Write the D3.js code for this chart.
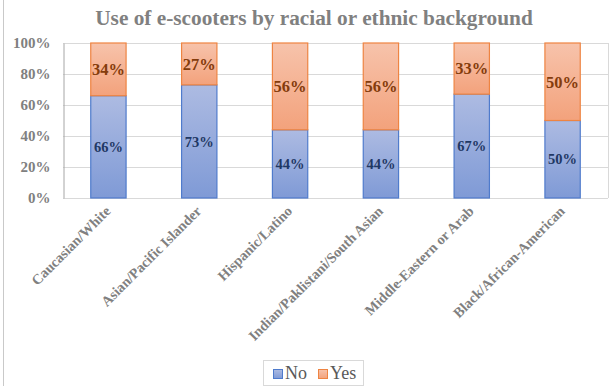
<!DOCTYPE html>
<html><head><meta charset="utf-8">
<script src="https://cdn.jsdelivr.net/npm/d3@7/dist/d3.min.js"></script>
<style>body{margin:0;background:#fff}svg{display:block}</style>
</head><body>
<svg id="c" width="613" height="387"></svg>
<script>
const categories = ["Caucasian/White","Asian/Pacific Islander","Hispanic/Latino","Indian/Paklistani/South Asian","Middle-Eastern or Arab","Black/African-American"];
const noValues = [66, 73, 44, 44, 67, 50];
const yesValues = [34, 27, 56, 56, 33, 50];
const yTicks = [0, 20, 40, 60, 80, 100];
const seriesNames = ["No", "Yes"];

const svg = d3.select("#c");
const serif = "'Liberation Serif','Times New Roman',serif";
const m = {l:63, r:608, t:43, b:198};

const defs = svg.append("defs");
const gb = defs.append("linearGradient").attr("id","gBlue").attr("x1",0).attr("y1",0).attr("x2",0).attr("y2",1);
gb.append("stop").attr("offset","0%").attr("stop-color","#adbbe2");
gb.append("stop").attr("offset","100%").attr("stop-color","#7f9ad6");
const go = defs.append("linearGradient").attr("id","gOrange").attr("x1",0).attr("y1",0).attr("x2",0).attr("y2",1);
go.append("stop").attr("offset","0%").attr("stop-color","#f7c3ab");
go.append("stop").attr("offset","100%").attr("stop-color","#f3a27c");

// chart left border
svg.append("line").attr("x1",3.5).attr("x2",3.5).attr("y1",0).attr("y2",386).attr("stroke","#c9c9c9").attr("stroke-width",1);

const x = d3.scaleBand().domain(categories).range([m.l, m.r]).paddingInner(0.6).paddingOuter(0.3);
const y = d3.scaleLinear().domain([0,100]).range([m.b, m.t]);

// gridlines
svg.append("g").selectAll("line").data(yTicks.filter(d=>d>0)).join("line")
  .attr("x1", m.l).attr("x2", m.r).attr("y1", d=>y(d)+0.5).attr("y2", d=>y(d)+0.5)
  .attr("stroke","#d9d9d9");
svg.append("line").attr("x1",m.r+0.5).attr("x2",m.r+0.5).attr("y1",m.t).attr("y2",m.b).attr("stroke","#d9d9d9");
svg.append("line").attr("x1",m.l).attr("x2",m.r).attr("y1",m.b+0.5).attr("y2",m.b+0.5).attr("stroke","#d9d9d9");

// y axis
const yAxis = d3.axisLeft(y).tickValues(yTicks).tickFormat(d=>d+"%").tickSize(0).tickPadding(13);
const ya = svg.append("g").attr("transform",`translate(${m.l+0.5},0)`).call(yAxis);
ya.select(".domain").attr("stroke","#a6a6a6");
ya.selectAll("text").attr("font-family",serif).attr("font-weight","bold").attr("font-size","15px").attr("fill","#808080");

const data = categories.map((c,i)=>({c, no:noValues[i], yes:yesValues[i]}));

const g = svg.append("g");
g.selectAll(".no").data(data).join("rect").attr("class","no")
  .attr("x", d=>x(d.c)+0.5).attr("width", x.bandwidth()-1)
  .attr("y", d=>y(d.no)).attr("height", d=>y(0)-y(d.no))
  .attr("fill","url(#gBlue)").attr("stroke","#4f7bcc").attr("stroke-width",1.2);
g.selectAll(".yes").data(data).join("rect").attr("class","yes")
  .attr("x", d=>x(d.c)+0.5).attr("width", x.bandwidth()-1)
  .attr("y", d=>y(d.no+d.yes)).attr("height", d=>y(d.no)-y(d.no+d.yes))
  .attr("fill","url(#gOrange)").attr("stroke","#ee8442").attr("stroke-width",1.2);

g.selectAll(".nol").data(data).join("text")
  .attr("x", d=>x(d.c)+x.bandwidth()/2).attr("y", d=>y(d.no/2)).attr("dy","0.35em")
  .attr("text-anchor","middle").attr("font-family",serif).attr("font-weight","bold")
  .attr("font-size","14.5px").attr("fill","#1f3864").text(d=>d.no+"%");
g.selectAll(".yesl").data(data).join("text")
  .attr("x", d=>x(d.c)+x.bandwidth()/2).attr("y", d=>y(d.no+d.yes/2)).attr("dy","0.35em")
  .attr("text-anchor","middle").attr("font-family",serif).attr("font-weight","bold")
  .attr("font-size","16.5px").attr("fill","#843c0c").text(d=>d.yes+"%");

svg.append("g").selectAll("text").data(categories).join("text")
  .attr("transform", d=>`translate(${x(d)+x.bandwidth()/2+3},${m.b+14}) rotate(-45)`)
  .attr("text-anchor","end").attr("font-family",serif).attr("font-weight","bold")
  .attr("font-size","14.3px").attr("fill","#808080").text(d=>d);

svg.append("text").attr("x",314).attr("y",25).attr("text-anchor","middle")
  .attr("font-family",serif).attr("font-weight","bold").attr("font-size","21.3px")
  .attr("fill","#808080").text("Use of e-scooters by racial or ethnic background");

const lg = svg.append("g");
lg.append("rect").attr("x",263.5).attr("y",360.5).attr("width",100).attr("height",25)
  .attr("fill","#fff").attr("stroke","#d9d9d9");
const items = [{n:seriesNames[0], f:"url(#gBlue)", s:"#4f7bcc", x:273},{n:seriesNames[1], f:"url(#gOrange)", s:"#ee8442", x:318}];
items.forEach(it=>{
  lg.append("rect").attr("x",it.x+0.5).attr("y",369.5).attr("width",9).attr("height",9).attr("fill",it.f).attr("stroke",it.s);
  lg.append("text").attr("x",it.x+12).attr("y",379).attr("font-family",serif).attr("font-size","18px")
    .attr("fill","#595959").text(it.n);
});
</script>
</body></html>
